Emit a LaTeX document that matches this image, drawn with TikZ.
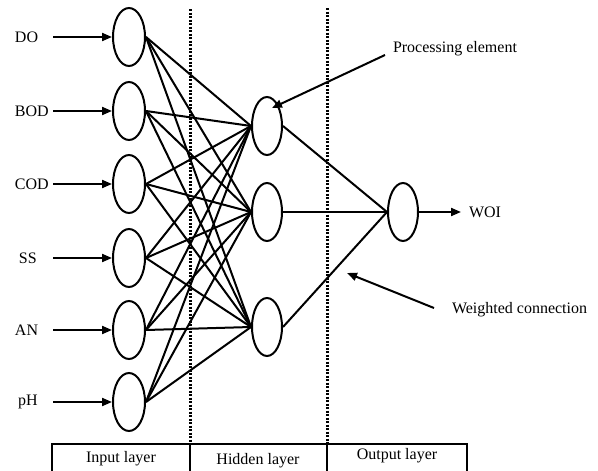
\documentclass[tikz,border=0pt]{standalone}
\usepackage{fontspec}
\setmainfont{Liberation Serif}
\usetikzlibrary{shapes.geometric,arrows.meta}
\begin{document}
\begin{tikzpicture}[x=1pt, y=-1pt, auto, line width=2pt,
  main/.style = {draw, ellipse, minimum width=32pt, minimum height=58pt, inner sep=0pt},
  lab/.style = {font=\fontsize{16}{19}\selectfont, inner sep=0pt},
  arr/.style = {-{Triangle[length=10pt,width=8pt]}},
  sep/.style = {line width=3pt, dash pattern=on 2pt off 1.5pt}]
\useasboundingbox (0,0) rectangle (598,471);
% input layer
\node[main] (1) at (129,37) {};
\node[main] (2) at (129,111) {};
\node[main] (3) at (129,184) {};
\node[main] (4) at (129,258) {};
\node[main] (5) at (129,330) {};
\node[main] (6) at (129,402) {};
% hidden layer
\node[main, minimum width=30pt] (7) at (267,126) {};
\node[main, minimum width=30pt] (8) at (267,212) {};
\node[main, minimum width=30pt] (9) at (267,327) {};
% output layer
\node[main, minimum width=30pt] (10) at (403,212) {};
% inputs
\node[lab, anchor=west] (DO) at (14,37) {DO};
\node[lab, anchor=west] (BOD) at (14,111) {BOD};
\node[lab, anchor=west] (COD) at (14,184) {COD};
\node[lab, anchor=west] (SS) at (18,258) {SS};
\node[lab, anchor=west] (AN) at (14,330) {AN};
\node[lab, anchor=west] (pH) at (17,402) {pH};
\coordinate (a1) at (53,37);
\coordinate (a2) at (53,111);
\coordinate (a3) at (53,184);
\coordinate (a4) at (53,258);
\coordinate (a5) at (53,330);
\coordinate (a6) at (53,402);
\draw[arr] (a1) -- (1);
\draw[arr] (a2) -- (2);
\draw[arr] (a3) -- (3);
\draw[arr] (a4) -- (4);
\draw[arr] (a5) -- (5);
\draw[arr] (a6) -- (6);
% weighted connections
\path (1.east) edge (7.west) edge (8.west) edge (9.west);
\path (2.east) edge (7.west) edge (8.west) edge (9.west);
\path (3.east) edge (7.west) edge (8.west) edge (9.west);
\path (4.east) edge (7.west) edge (8.west) edge (9.west);
\path (5.east) edge (7.west) edge (8.west) edge (9.west);
\path (6.east) edge (7.west) edge (8.west) edge (9.west);
\path (7.east) edge (10.west);
\path (8.east) edge (10.west);
\path (9.east) edge (10.west);
% output
\node[lab, anchor=west] (WOI) at (468,212) {WOI};
\draw[arr, shorten >=7pt] (10.east) -- (WOI.west);
% annotations
\node[lab, anchor=west] (pe) at (392,49) {Processing element};
\coordinate (pe0) at (385,55);
\coordinate (pe1) at (272,108);
\draw[arr] (pe0) -- (pe1);
\node[lab, anchor=west] (wc) at (451,310) {Weighted connection};
\coordinate (wc0) at (434,308);
\coordinate (wc1) at (347,273);
\draw[arr] (wc0) -- (wc1);
% layer separators
\draw[sep] (190,9) -- (190,445);
\draw[sep] (327,8) -- (327,443);
% layer boxes
\draw[line width=2.2pt] (52,474) rectangle (467,444);
\draw[line width=2.8pt] (190,444) -- (190,474);
\draw[line width=2.8pt] (327,444) -- (327,474);
\node[lab] (in) at (121,459) {Input layer};
\node[lab] (hid) at (258,461) {Hidden layer};
\node[lab] (out) at (397,456) {Output layer};
\end{tikzpicture}
\end{document}
